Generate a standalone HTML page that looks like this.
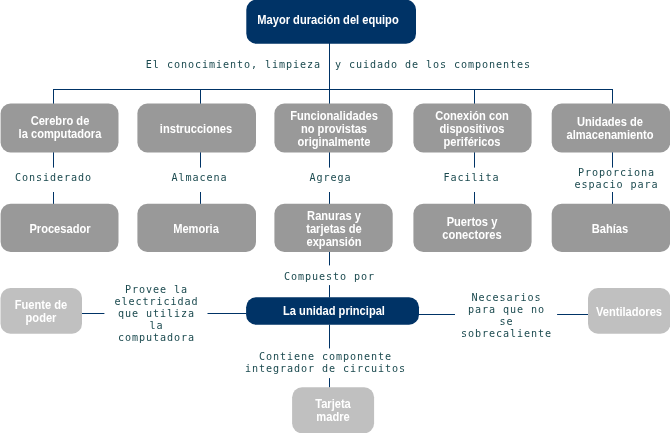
<!DOCTYPE html>
<html lang="es">
<head>
<meta charset="utf-8">
<title>Mayor duración del equipo</title>
<style>
html,body{margin:0;padding:0;background:#fff;}
body{width:670px;height:433px;position:relative;overflow:hidden;}
#map{will-change:transform;position:absolute;left:0;top:0;width:670px;height:433px;overflow:hidden;background:#fff;}
#shapes{position:absolute;left:0;top:0;}
.bx{position:absolute;width:200px;margin-left:-100px;color:#fff;text-align:center;white-space:nowrap;
 font-family:"Liberation Sans",sans-serif;font-weight:bold;font-size:13px;line-height:13px;
 transform:scaleX(0.855);transform-origin:50% 0;}
.t{position:absolute;width:600px;margin-left:-300px;color:#1b4a4f;text-align:center;white-space:pre;
 font-family:"DejaVu Sans Mono","Liberation Mono",monospace;font-size:11px;line-height:12px;letter-spacing:0.99px;padding-left:0.5px;
 transform:scaleX(0.92);transform-origin:50% 0;}
</style>
</head>
<body>
<div id="map">
<svg id="shapes" width="670" height="433" viewBox="0 0 670 433">
<g fill="#003366">
<rect x="329" y="43" width="1" height="61"/>
<rect x="329" y="152" width="1" height="15.6"/>
<rect x="329" y="192" width="1" height="12"/>
<rect x="329" y="251.5" width="1" height="13.9"/>
<rect x="329" y="285.1" width="1" height="12.4"/>
<rect x="329" y="324.5" width="1" height="23.9"/>
<rect x="329" y="378.1" width="1" height="9.4"/>
<rect x="53" y="89" width="1" height="15"/>
<rect x="53" y="152" width="1" height="15.6"/>
<rect x="53" y="192" width="1" height="12"/>
<rect x="200" y="89" width="1" height="15"/>
<rect x="200" y="152" width="1" height="15.6"/>
<rect x="200" y="192" width="1" height="12"/>
<rect x="474" y="89" width="1" height="15"/>
<rect x="474" y="152" width="1" height="15.6"/>
<rect x="474" y="192" width="1" height="12"/>
<rect x="612" y="89" width="1" height="15"/>
<rect x="612" y="152" width="1" height="15.6"/>
<rect x="612" y="192" width="1" height="12"/>
<rect x="53" y="89" width="560" height="1"/>
<rect x="81.5" y="313" width="22.9" height="1"/>
<rect x="207.5" y="313" width="39.0" height="1"/>
<rect x="418.5" y="314" width="36.5" height="1"/>
<rect x="557.1" y="314" width="31.4" height="1"/>
</g>
<rect x="246.3" y="-0.3" width="169.7" height="44.1" rx="10" ry="10" fill="#003366"/>
<rect x="0.6" y="103.5" width="117.9" height="49.0" rx="10" ry="10" fill="#999999"/>
<rect x="137.4" y="103.5" width="118.6" height="49.0" rx="10" ry="10" fill="#999999"/>
<rect x="274.4" y="103.5" width="118.3" height="49.0" rx="10" ry="10" fill="#999999"/>
<rect x="413.4" y="103.5" width="118.2" height="49.0" rx="10" ry="10" fill="#999999"/>
<rect x="551.7" y="103.5" width="118.5" height="49.0" rx="10" ry="10" fill="#999999"/>
<rect x="0.6" y="203.7" width="117.9" height="48.3" rx="10" ry="10" fill="#999999"/>
<rect x="137.4" y="203.7" width="118.6" height="48.3" rx="10" ry="10" fill="#999999"/>
<rect x="274.4" y="203.7" width="118.3" height="48.3" rx="10" ry="10" fill="#999999"/>
<rect x="413.4" y="203.7" width="118.2" height="48.3" rx="10" ry="10" fill="#999999"/>
<rect x="551.7" y="203.7" width="118.5" height="48.3" rx="10" ry="10" fill="#999999"/>
<rect x="0.5" y="288.1" width="81.5" height="45.6" rx="10" ry="10" fill="#c0c0c0"/>
<rect x="246.1" y="297.2" width="172.9" height="27.5" rx="10" ry="10" fill="#003366"/>
<rect x="588.0" y="288.1" width="82.4" height="45.6" rx="10" ry="10" fill="#c0c0c0"/>
<rect x="292.1" y="387.2" width="82.0" height="46.1" rx="10" ry="10" fill="#c0c0c0"/>
</svg>
<div class="bx" style="left:328.0px;top:13px">Mayor duración del equipo</div>
<div class="bx" style="left:59.8px;top:114px">Cerebro de<br>la computadora</div>
<div class="bx" style="left:196.4px;top:122px">instrucciones</div>
<div class="bx" style="left:333.6px;top:109px">Funcionalidades<br>no provistas<br>originalmente</div>
<div class="bx" style="left:472.2px;top:109px">Conexión con<br>dispositivos<br>periféricos</div>
<div class="bx" style="left:610.4px;top:115px">Unidades de<br>almacenamiento</div>
<div class="bx" style="left:59.7px;top:222px">Procesador</div>
<div class="bx" style="left:196.4px;top:222px">Memoria</div>
<div class="bx" style="left:333.6px;top:209px">Ranuras y<br>tarjetas de<br>expansión</div>
<div class="bx" style="left:472.4px;top:215px">Puertos y<br>conectores</div>
<div class="bx" style="left:610.4px;top:222px">Bahías</div>
<div class="bx" style="left:40.9px;top:298px">Fuente de<br>poder</div>
<div class="bx" style="left:334.0px;top:304px">La unidad principal</div>
<div class="bx" style="left:629.1px;top:305px">Ventiladores</div>
<div class="bx" style="left:333.4px;top:397px">Tarjeta<br>madre</div>
<div class="t" style="left:337.5px;top:59px">El conocimiento, limpieza  y cuidado de los componentes</div>
<div class="t" style="left:53.3px;top:172px">Considerado</div>
<div class="t" style="left:199.3px;top:172px">Almacena</div>
<div class="t" style="left:330.3px;top:172px">Agrega</div>
<div class="t" style="left:471.1px;top:172px">Facilita</div>
<div class="t" style="left:615.5px;top:167px">Proporciona<br>espacio para</div>
<div class="t" style="left:329.4px;top:271px">Compuesto por</div>
<div class="t" style="left:156.0px;top:284px">Provee la<br>electricidad<br>que utiliza<br>la<br>computadora</div>
<div class="t" style="left:506.3px;top:292px">Necesarios<br>para que no<br>se<br>sobrecaliente</div>
<div class="t" style="left:325.4px;top:351px">Contiene componente<br>integrador de circuitos</div>
</div>
</body>
</html>
